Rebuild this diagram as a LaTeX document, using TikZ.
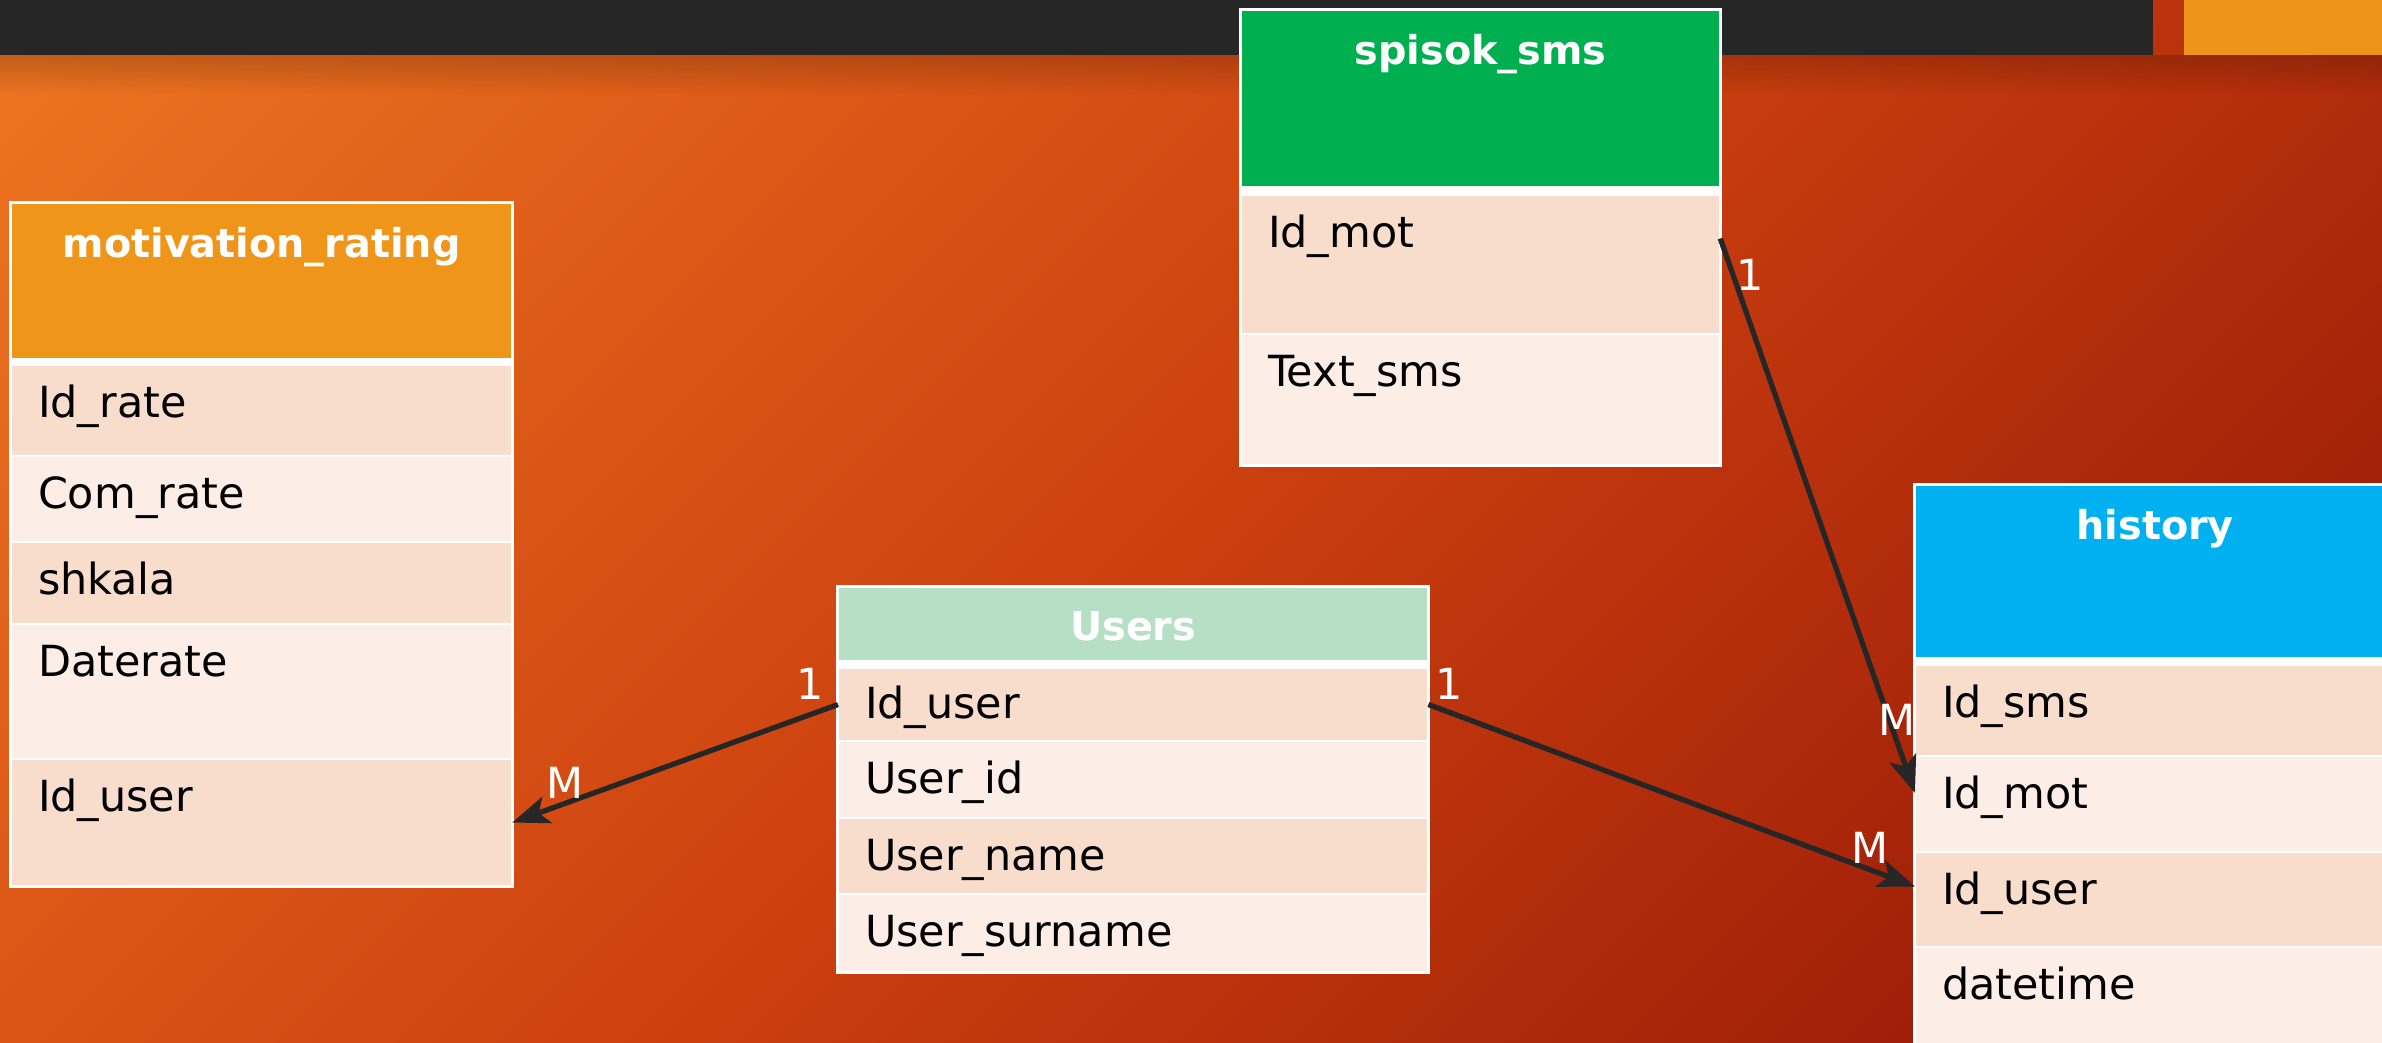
\documentclass[tikz,border=0pt]{standalone}
\usepackage{fontspec}
\setmainfont{DejaVu Sans}
\usetikzlibrary{arrows.meta,fadings}

\definecolor{barC}{HTML}{262626}
\definecolor{accentC}{HTML}{EF941A}
\definecolor{bgA}{HTML}{EE7622}
\definecolor{bgM}{HTML}{CC400F}
\definecolor{bgB}{HTML}{8E1206}
\definecolor{rowA}{HTML}{F8DCCC}
\definecolor{rowB}{HTML}{FCEDE6}
\definecolor{hdrOrange}{HTML}{EF961A}
\definecolor{hdrGreen}{HTML}{00B050}
\definecolor{hdrBlue}{HTML}{00B0F0}
\definecolor{hdrMint}{HTML}{B6DFC6}
\definecolor{lineC}{HTML}{262626}

\tikzfading[name=fadedown, top color=transparent!0, bottom color=transparent!100]

\tikzset{
  cell/.style={anchor=north west, fill=rowA, draw=white, line width=0.7pt, outer sep=0pt,
    inner xsep=0.27cm, inner ysep=0pt, text height=0.52cm, align=left,
    font=\fontsize{12.2}{14}\selectfont, text=black},
  hcell/.style={anchor=north west, draw=white, line width=0.7pt, outer sep=0pt,
    inner sep=0pt, text height=0.54cm, align=center,
    font=\bfseries\fontsize{11.3}{13}\selectfont, text=white},
  rel/.style={draw=lineC, line width=1.5pt, -{Stealth[length=0.37cm, width=0.28cm, inset=0.09cm]}},
  lbl/.style={text=white, inner sep=0pt, font=\fontsize{12.2}{14}\selectfont},
}

\begin{document}
\begin{tikzpicture}[x=0.01cm, y=-0.01cm]
        \useasboundingbox (0,0) rectangle (2382,1043);
        \clip (0,0) rectangle (2382,1043);

        % Background gradient, light orange top left to dark red bottom right
        \begin{scope}
          \shade[left color=bgA, right color=bgB, middle color=bgM,
            transform canvas={rotate around={-45:(1191,521.5)}}]
            (-20,-1300) rectangle (2402,2343);
        \end{scope}

        % Title bar and its shadow
        \fill[black, opacity=0.18, path fading=fadedown] (0,55) rectangle (2382,95);
        \fill[barC] (0,0) rectangle (2153,55);
        \fill[accentC] (2184,0) rectangle (2382,55);

        % motivation_rating
        \fill[white] (9,201) rectangle (514,888);
        \begin{scope}[cell/.append style={text width=4.47cm}, hcell/.append style={text width=5.01cm}]
          \node[hcell, fill=hdrOrange, text depth=1.02cm] (mrHead) at (11,203) {motivation\_rating};
          \node[cell, text depth=0.39cm] (mrRate) at (11,365) {Id\_rate};
          \node[cell, fill=rowB, text depth=0.34cm] (mrCom) at (11,456) {Com\_rate};
          \node[cell, text depth=0.30cm] (mrScale) at (11,542) {shkala};
          \node[cell, fill=rowB, text depth=0.83cm] (mrDate) at (11,624) {Daterate};
          \node[cell, text depth=0.75cm] (mrUser) at (11,759) {Id\_user};
        \end{scope}

        % spisok_sms
        \fill[white] (1239,8) rectangle (1722,467);
        \begin{scope}[cell/.append style={text width=4.25cm}, hcell/.append style={text width=4.79cm}]
          \node[hcell, fill=hdrGreen, text depth=1.23cm] (sHead) at (1241,10) {spisok\_sms};
          \node[cell, text depth=0.87cm] (sMot) at (1241,195) {Id\_mot};
          \node[cell, fill=rowB, text depth=0.79cm] (sText) at (1241,334) {Text\_sms};
        \end{scope}

        % Users
        \fill[white] (836,585) rectangle (1430,974);
        \begin{scope}[cell/.append style={text width=5.36cm}, hcell/.append style={text width=5.90cm}]
          \node[hcell, fill=hdrMint, text height=0.53cm, text depth=0.21cm] (uHead) at (838,587) {Users};
          \node[cell, text height=0.50cm, text depth=0.23cm] (uId) at (838,668) {Id\_user};
          \node[cell, fill=rowB, text depth=0.25cm] (uUid) at (838,741) {User\_id};
          \node[cell, text depth=0.24cm] (uName) at (838,818) {User\_name};
          \node[cell, fill=rowB, text depth=0.26cm] (uSurname) at (838,894) {User\_surname};
        \end{scope}

        % history
        \fill[white] (1913,483) rectangle (2400,1070);
        \begin{scope}[cell/.append style={text width=4.26cm}, hcell/.append style={text width=4.80cm}]
          \node[hcell, fill=hdrBlue, text depth=1.19cm] (hHead) at (1915,485) {history};
          \node[cell, text depth=0.39cm] (hSms) at (1915,665) {Id\_sms};
          \node[cell, fill=rowB, text depth=0.44cm] (hMot) at (1915,756) {Id\_mot};
          \node[cell, text depth=0.43cm] (hUser) at (1915,852) {Id\_user};
          \node[cell, fill=rowB, text depth=0.68cm] (hDate) at (1915,947) {datetime};
        \end{scope}

        % Relations, one to many
        \draw[rel] (uId.west) -- (mrUser.east)
          node[lbl, pos=0.086, yshift=0.31cm] {1}
          node[lbl, pos=0.837, yshift=0.20cm] {M};
        \draw[rel] (uId.east) -- ([yshift=0.13cm]hUser.west)
          node[lbl, pos=0.043, yshift=0.28cm] {1}
          node[lbl, pos=0.908, yshift=0.22cm] {M};
        \draw[rel] ([yshift=0.26cm]sMot.east) -- ([yshift=0.11cm]hMot.west)
          node[lbl, pos=0.066, xshift=0.17cm] {1}
          node[lbl, pos=0.868, xshift=0.08cm] {M};
\end{tikzpicture}
\end{document}
